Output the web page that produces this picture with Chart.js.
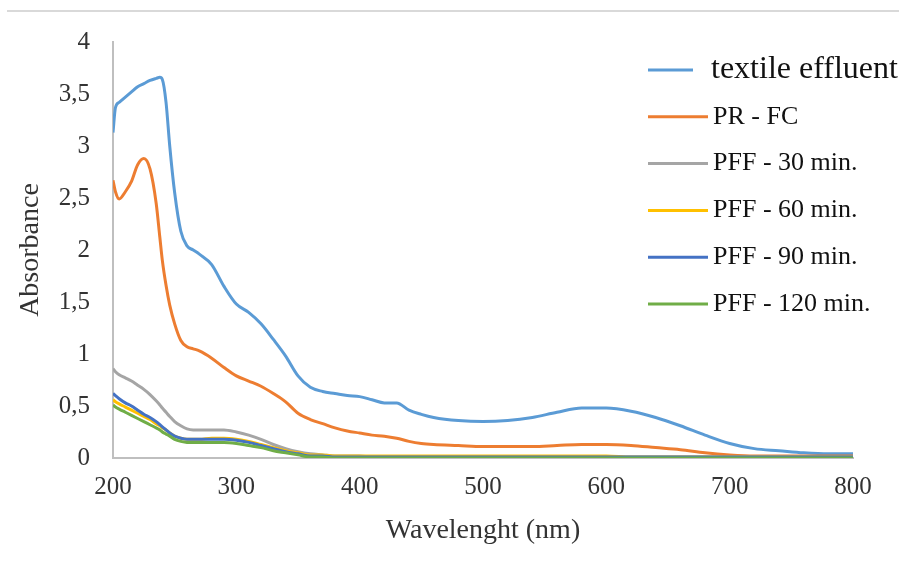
<!DOCTYPE html>
<html>
<head>
<meta charset="utf-8">
<script src="https://cdn.jsdelivr.net/npm/chart.js@4.4.1/dist/chart.umd.min.js"></script>
<style>
  html, body { margin: 0; padding: 0; background: #fff; }
  #wrap { position: relative; width: 899px; height: 577px; }
  #topline { position: absolute; left: 7px; right: 0; top: 10px; height: 2px; background: #d9d9d9; }
</style>
</head>
<body>
<div id="wrap">
  <div id="topline"></div>
  <canvas id="spectra" width="899" height="577"></canvas>
</div>
<script>
// wavelengths (nm) shared by every series
const wavelengths = [200, 202, 205, 210, 215, 220, 225, 230, 235, 238, 240, 243, 246, 250, 255, 260, 265, 270, 280, 290,
  300, 310, 320, 330, 340, 350, 360, 370, 380, 390, 400, 410, 420, 430, 440, 450, 460, 480, 500, 520,
  540, 560, 580, 600, 620, 640, 660, 680, 700, 720, 740, 760, 780, 800];

const seriesNames = ['textile effluent', 'PR - FC', 'PFF - 30 min.', 'PFF - 60 min.', 'PFF - 90 min.', 'PFF - 120 min.'];

const textileEffluent = [3.13, 3.37, 3.42, 3.47, 3.52, 3.57, 3.60, 3.63, 3.65, 3.66, 3.64, 3.42, 3.00, 2.55, 2.18, 2.04, 2.00, 1.96, 1.86, 1.65,
  1.48, 1.40, 1.29, 1.14, 0.98, 0.79, 0.68, 0.64, 0.62, 0.60, 0.59, 0.56, 0.53, 0.53, 0.46, 0.42, 0.39, 0.36, 0.35, 0.36,
  0.39, 0.44, 0.48, 0.48, 0.45, 0.39, 0.31, 0.22, 0.14, 0.09, 0.07, 0.05, 0.04, 0.04];

const prFc = [2.67, 2.56, 2.49, 2.56, 2.66, 2.82, 2.88, 2.78, 2.45, 2.12, 1.90, 1.66, 1.47, 1.29, 1.13, 1.07, 1.05, 1.03, 0.96, 0.87,
  0.79, 0.74, 0.69, 0.62, 0.54, 0.43, 0.37, 0.33, 0.29, 0.26, 0.24, 0.22, 0.21, 0.19, 0.16, 0.14, 0.13, 0.12, 0.11, 0.11,
  0.11, 0.12, 0.13, 0.13, 0.12, 0.10, 0.08, 0.05, 0.03, 0.02, 0.02, 0.02, 0.02, 0.02];

const pff30 = [0.86, 0.83, 0.80, 0.77, 0.74, 0.70, 0.66, 0.61, 0.55, 0.51, 0.48, 0.44, 0.40, 0.35, 0.31, 0.28, 0.27, 0.27, 0.27, 0.27,
  0.25, 0.22, 0.18, 0.13, 0.09, 0.06, 0.04, 0.03, 0.02, 0.02, 0.02, 0.01, 0.01, 0.01, 0.01, 0.01, 0.01, 0.01, 0.01, 0.01,
  0.01, 0.01, 0.01, 0.01, 0.01, 0.01, 0.01, 0.01, 0.01, 0.01, 0.01, 0.01, 0.01, 0.01];

const pff60 = [0.56, 0.54, 0.52, 0.49, 0.46, 0.43, 0.40, 0.37, 0.33, 0.31, 0.29, 0.27, 0.24, 0.21, 0.19, 0.18, 0.18, 0.18, 0.19, 0.19,
  0.18, 0.16, 0.13, 0.10, 0.07, 0.05, 0.03, 0.03, 0.02, 0.02, 0.02, 0.02, 0.02, 0.02, 0.02, 0.02, 0.02, 0.02, 0.02, 0.02,
  0.02, 0.02, 0.02, 0.02, 0.01, 0.01, 0.01, 0.01, 0.01, 0.01, 0.01, 0.01, 0.01, 0.01];

const pff90 = [0.62, 0.60, 0.57, 0.53, 0.50, 0.46, 0.42, 0.39, 0.35, 0.32, 0.30, 0.27, 0.24, 0.21, 0.19, 0.18, 0.18, 0.18, 0.18, 0.18,
  0.17, 0.15, 0.12, 0.09, 0.06, 0.04, 0.02, 0.02, 0.01, 0.01, 0.01, 0.01, 0.01, 0.01, 0.01, 0.01, 0.01, 0.01, 0.01, 0.01,
  0.01, 0.01, 0.01, 0.01, 0.01, 0.01, 0.01, 0.01, 0.01, 0.01, 0.01, 0.01, 0.01, 0.01];

const pff120 = [0.51, 0.49, 0.47, 0.44, 0.41, 0.38, 0.35, 0.32, 0.29, 0.27, 0.25, 0.23, 0.21, 0.18, 0.16, 0.15, 0.15, 0.15, 0.15, 0.15,
  0.14, 0.12, 0.10, 0.07, 0.05, 0.03, 0.01, 0.01, 0.00, 0.00, 0.00, 0.00, 0.00, 0.00, 0.00, 0.00, 0.00, 0.00, 0.00, 0.00,
  0.00, 0.00, 0.00, 0.00, 0.00, 0.00, 0.00, 0.00, 0.00, 0.00, 0.00, 0.00, 0.00, 0.00];

const seriesValues = [textileEffluent, prFc, pff30, pff60, pff90, pff120];
const seriesColors = ['#5b9bd5', '#ed7d31', '#a5a5a5', '#ffc000', '#4472c4', '#70ad47'];

const xTicks = [200, 300, 400, 500, 600, 700, 800];
const yTicks = [0, 0.5, 1, 1.5, 2, 2.5, 3, 3.5, 4];

const serif = "'Liberation Serif', 'Times New Roman', serif";

// legend drawn inside the plot, top right, like the Excel original
const insideLegend = {
  id: 'insideLegend',
  afterDraw(chart) {
    const ctx = chart.ctx;
    ctx.save();
    chart.data.datasets.forEach((ds, i) => {
      const y = 70 + i * 46.8;
      const first = i === 0;
      ctx.strokeStyle = ds.borderColor;
      ctx.lineWidth = 3;
      ctx.beginPath();
      ctx.moveTo(648, y);
      ctx.lineTo(first ? 693 : 708, y);
      ctx.stroke();
      ctx.fillStyle = '#111';
      ctx.font = (first ? 32 : 26) + 'px ' + serif;
      ctx.textBaseline = 'middle';
      ctx.textAlign = 'left';
      ctx.fillText(ds.label, first ? 711 : 713, y);
    });
    ctx.restore();
  }
};

const datasets = seriesNames.map((name, i) => ({
  label: name,
  data: wavelengths.map((w, j) => ({ x: w, y: seriesValues[i][j] })),
  borderColor: seriesColors[i],
  backgroundColor: seriesColors[i],
  borderWidth: 3,
  pointRadius: 0,
  fill: false,
  cubicInterpolationMode: 'monotone',
  order: seriesNames.length - i
}));

new Chart(document.getElementById('spectra'), {
  type: 'line',
  data: { datasets: datasets },
  options: {
    responsive: false,
    animation: false,
    layout: { padding: { left: 0, right: 46, top: 42, bottom: 0 } },
    plugins: { legend: { display: false }, tooltip: { enabled: false } },
    scales: {
      x: {
        type: 'linear',
        min: 200,
        max: 800,
        afterBuildTicks: (axis) => { axis.ticks = xTicks.map(v => ({ value: v })); },
        afterFit: (axis) => { axis.height = 119; },
        grid: { display: false, drawTicks: false },
        border: { display: true, color: '#bfbfbf', width: 2 },
        ticks: { color: '#333', padding: 14, font: { family: serif, size: 25 }, maxRotation: 0 },
        title: { display: true, text: 'Wavelenght (nm)', color: '#333', font: { family: serif, size: 28 }, padding: { top: 0, bottom: 30 } }
      },
      y: {
        min: 0,
        max: 4,
        afterBuildTicks: (axis) => { axis.ticks = yTicks.map(v => ({ value: v })); },
        afterFit: (axis) => { axis.width = 113; },
        grid: { display: false, drawTicks: false },
        border: { display: true, color: '#bfbfbf', width: 2 },
        ticks: {
          color: '#333',
          padding: 23,
          font: { family: serif, size: 25 },
          callback: (v) => String(v).replace('.', ',')
        },
        title: { display: true, text: 'Absorbance', color: '#333', font: { family: serif, size: 28 }, padding: { top: 14, bottom: 0 } }
      }
    }
  },
  plugins: [insideLegend]
});
</script>
</body>
</html>
